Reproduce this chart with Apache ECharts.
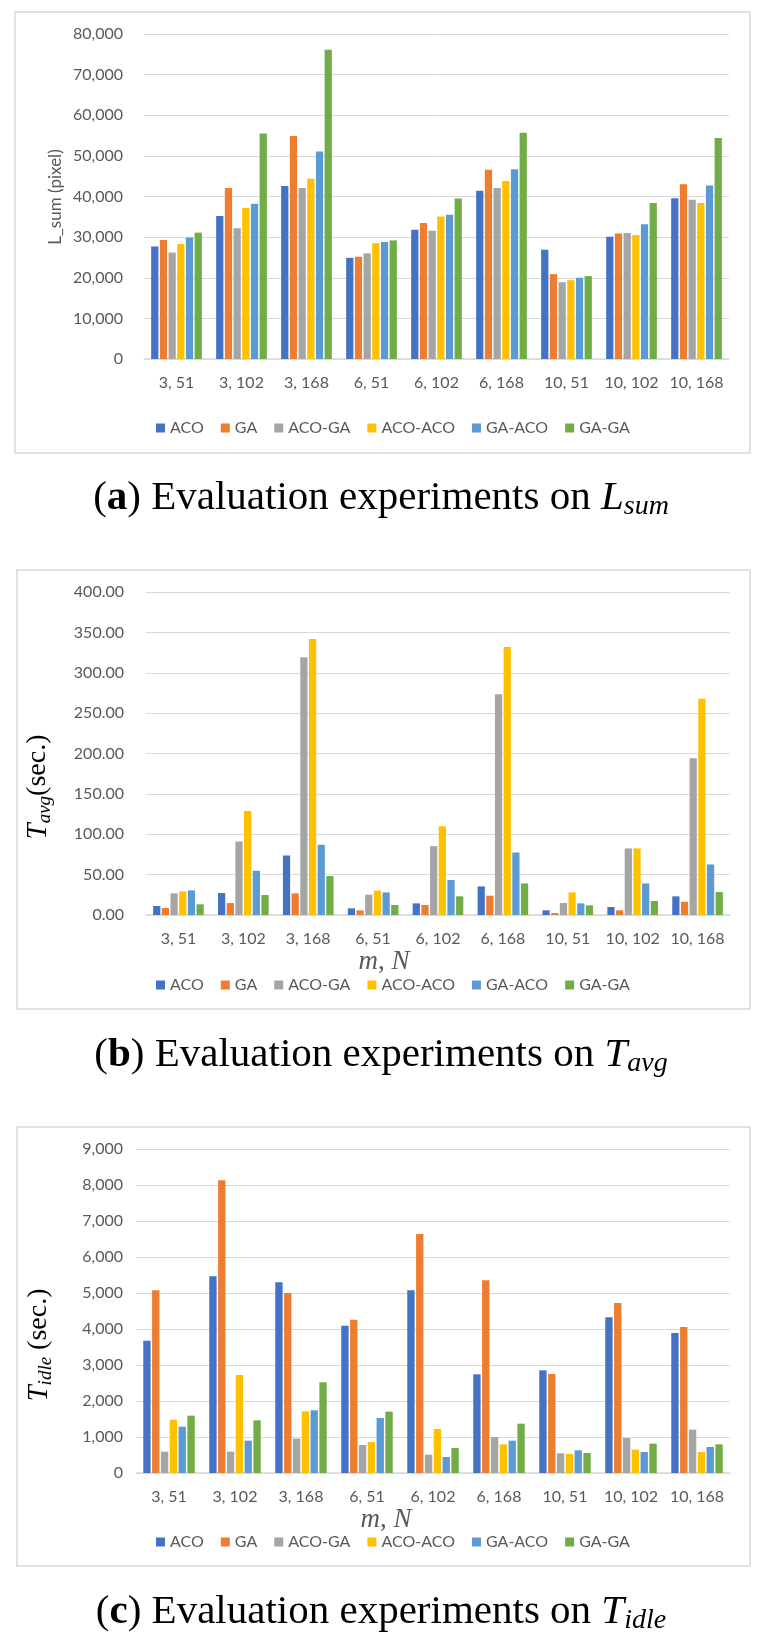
<!DOCTYPE html>
<html><head><meta charset="utf-8">
<script src="https://cdn.jsdelivr.net/npm/echarts@6/dist/echarts.min.js"></script>
<style>html,body{margin:0;padding:0;background:#fff}#c{width:766px;height:1646px}</style>
</head><body><div id="c"></div>
<script>
const categories = ['3, 51','3, 102','3, 168','6, 51','6, 102','6, 168','10, 51','10, 102','10, 168'];
const seriesNames = ['ACO','GA','ACO-GA','ACO-ACO','GA-ACO','GA-GA'];
const colors = ['#4472C4','#ED7D31','#A5A5A5','#FFC000','#5B9BD5','#70AD47'];

const lsumACO    = [27700,35200,42600,24900,31800,41400,26900,30100,39600];
const lsumGA     = [29300,42100,54900,25200,33500,46600,20900,30900,43000];
const lsumACOGA  = [26200,32200,42100,26000,31600,42100,18900,31000,39200];
const lsumACOACO = [28300,37200,44400,28500,35100,43800,19400,30500,38400];
const lsumGAACO  = [29900,38200,51100,28800,35500,46700,20000,33200,42700];
const lsumGAGA   = [31100,55500,76100,29200,39500,55700,20400,38400,54400];

const tavgACO    = [11.1,27.2,73.7,8.2,14.4,35.4,5.8,9.9,23.1];
const tavgGA     = [8.7,14.8,26.8,5.8,12.4,23.9,2.5,5.8,16.5];
const tavgACOGA  = [26.8,91.0,319.3,25.1,85.3,273.5,14.8,82.4,194.0];
const tavgACOACO = [29.2,128.9,341.9,30.1,110.0,332.0,28.0,82.4,267.8];
const tavgGAACO  = [30.5,54.8,86.9,28.0,43.3,77.4,14.4,39.1,62.6];
const tavgGAGA   = [13.2,24.7,48.2,12.4,23.1,39.1,11.9,17.3,28.4];

const tidleACO    = [3676,5463,5296,4093,5074,2741,2852,4324,3889];
const tidleGA     = [5074,8130,5000,4259,6639,5352,2750,4722,4056];
const tidleACOGA  = [593,593,954,778,509,1000,546,972,1204];
const tidleACOACO = [1481,2722,1713,861,1222,796,528,648,583];
const tidleGAACO  = [1287,898,1741,1528,444,898,630,583,722];
const tidleGAGA   = [1593,1463,2519,1704,694,1370,556,815,796];

const lsumTicks  = [0,10000,20000,30000,40000,50000,60000,70000,80000];
const tavgTicks  = [0,50,100,150,200,250,300,350,400];
const tidleTicks = [0,1000,2000,3000,4000,5000,6000,7000,8000,9000];

const chartData = [
  [lsumACO,lsumGA,lsumACOGA,lsumACOACO,lsumGAACO,lsumGAGA],
  [tavgACO,tavgGA,tavgACOGA,tavgACOACO,tavgGAACO,tavgGAGA],
  [tidleACO,tidleGA,tidleACOGA,tidleACOACO,tidleGAACO,tidleGAGA]
];
const tickSets = [lsumTicks,tavgTicks,tidleTicks];

const GRAY = '#595959', LINE = '#d9d9d9';
const SANS = 'Lato', SERIF = 'Liberation Serif';
const comma = v => Math.round(v).toLocaleString('en-US');
const fixed2 = v => v.toFixed(2);
const formatters = [comma, fixed2, comma];

const grids = [
  {left:144, top:34, width:585, height:325},
  {left:146, top:592, width:584, height:323},
  {left:136, top:1149, width:594, height:324}
];

const serifRich = {
  m:{fontFamily:SERIF, fontStyle:'italic', fontSize:29, color:GRAY},
  s:{fontFamily:SERIF, fontStyle:'italic', fontSize:19, color:GRAY, padding:[13,0,0,0]},
  n:{fontFamily:SERIF, fontSize:28, color:GRAY}
};
const xRich = {
  m:{fontFamily:SERIF, fontStyle:'italic', fontSize:27, color:GRAY},
  c:{fontFamily:SERIF, fontSize:27, color:GRAY}
};

const xAxes = grids.map((g,i)=>({
  type:'category', gridIndex:i, data:categories,
  axisLine:{lineStyle:{color:LINE, width:1.5}},
  axisTick:{show:false},
  axisLabel:{color:GRAY, fontFamily:SANS, fontSize:16, margin:16, interval:0},
  name: i===0 ? '' : '{m|m}{c|, }{m|N}',
  nameLocation:'middle', nameGap:33,
  nameTextStyle:{rich:xRich, padding:[0, i===1 ? 108 : 94, 0, 0]}
}));

const yAxes = grids.map((g,i)=>{
  const t = tickSets[i];
  return {
    type:'value', gridIndex:i,
    min:t[0], max:t[t.length-1], interval:t[1]-t[0],
    axisLine:{show:false}, axisTick:{show:false},
    splitLine:{lineStyle:{color:LINE, width:1}},
    axisLabel:{color:GRAY, fontFamily:SANS, fontSize:16, margin:[21,22,13][i], formatter:formatters[i]}
  };
});

const series = [];
chartData.forEach((set,i)=>{
  set.forEach((arr,j)=>{
    series.push({
      type:'bar', name:seriesNames[j], xAxisIndex:i, yAxisIndex:i,
      data:arr, itemStyle:{color:colors[j]},
      barGap:'20%', barCategoryGap:'22%', animation:false
    });
  });
});

const legendTops = [415, 972, 1529];
const legends = legendTops.map(t=>({
  data:seriesNames, top:t, left:151, icon:'rect', itemWidth:9, itemHeight:9, itemGap:17,
  textStyle:{color:GRAY, fontFamily:SANS, fontSize:16}, selectedMode:false
}));

const capRich = {
  p:{fontFamily:SERIF, fontSize:41, color:'#000'},
  b:{fontFamily:SERIF, fontSize:41, fontWeight:'bold', color:'#000'},
  m:{fontFamily:SERIF, fontSize:41, fontStyle:'italic', color:'#000'},
  s:{fontFamily:SERIF, fontSize:28, fontStyle:'italic', color:'#000', padding:[17,0,0,0]}
};
const captions = [
  {y:498, t:'{p|(}{b|a}{p|) Evaluation experiments on }{m|L}{s|sum}'},
  {y:1055, t:'{p|(}{b|b}{p|) Evaluation experiments on }{m|T}{s|avg}'},
  {y:1612, t:'{p|(}{b|c}{p|) Evaluation experiments on }{m|T}{s|idle}'}
];
const boxes = [
  {x:15, y:12, w:735, h:441},
  {x:17, y:570, w:733, h:439},
  {x:17, y:1127, w:733, h:439}
];
const yTitles = [
  {x:56, y:197, style:{text:'L_sum (pixel)', fill:GRAY, fontFamily:SANS, fontSize:17}},
  {x:38, y:787, style:{text:'{m|T}{s|avg}{n|(sec.)}', rich:serifRich}},
  {x:39, y:1345, style:{text:'{m|T}{s|idle}{n| (sec.)}', rich:serifRich}}
];
const graphic = [];
boxes.forEach(b=>graphic.push({type:'rect', shape:{x:b.x, y:b.y, width:b.w, height:b.h}, style:{fill:'none', stroke:LINE, lineWidth:1.5}, z:-1}));
captions.forEach(c=>graphic.push({type:'text', x:381, y:c.y, style:{text:c.t, rich:capRich, textAlign:'center', textVerticalAlign:'middle'}}));
yTitles.forEach(t=>graphic.push({type:'text', x:t.x, y:t.y, rotation:Math.PI/2,
  style:Object.assign({textAlign:'center', textVerticalAlign:'middle'}, t.style)}));

const chart = echarts.init(document.getElementById('c'));
chart.setOption({
  animation:false,
  backgroundColor:'#fff',
  grid:grids, xAxis:xAxes, yAxis:yAxes, series:series, legend:legends, graphic:graphic
});
</script></body></html>
